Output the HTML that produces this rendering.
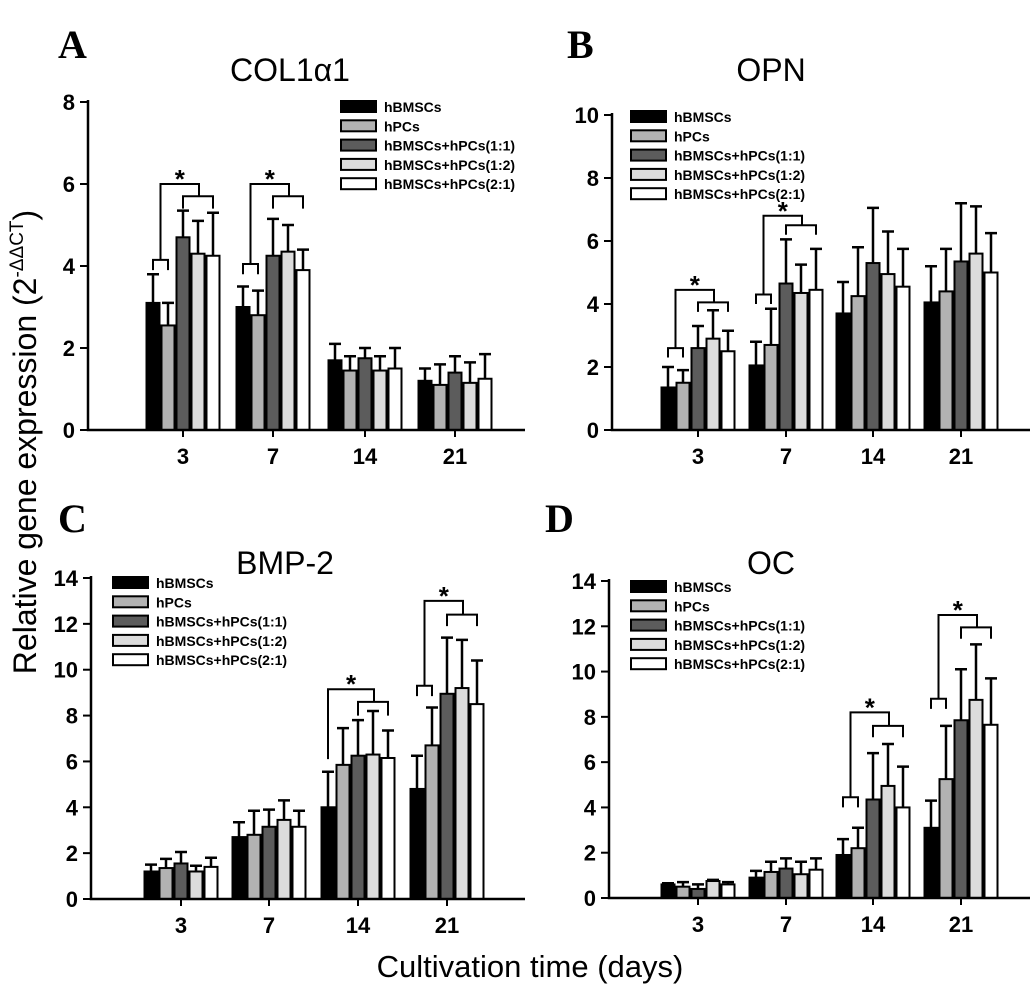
<!DOCTYPE html>
<html><head><meta charset="utf-8"><style>
body{margin:0;background:#fff}
svg{display:block;font-family:"Liberation Sans",Arial,sans-serif}
</style></head><body>
<svg id="fig" width="1033" height="990" viewBox="0 0 1033 990" xmlns="http://www.w3.org/2000/svg">
<text x="58" y="58" font-family="Liberation Serif,serif" font-weight="bold" font-size="40">A</text>
<text x="567" y="58" font-family="Liberation Serif,serif" font-weight="bold" font-size="40">B</text>
<text x="58" y="532" font-family="Liberation Serif,serif" font-weight="bold" font-size="40">C</text>
<text x="545" y="532" font-family="Liberation Serif,serif" font-weight="bold" font-size="40">D</text>
<text x="290" y="81" text-anchor="middle" font-size="32">COL1α1</text>
<text x="771" y="81" text-anchor="middle" font-size="32">OPN</text>
<text x="285" y="574" text-anchor="middle" font-size="32">BMP-2</text>
<text x="771" y="574" text-anchor="middle" font-size="32">OC</text>
<text transform="translate(36,442) rotate(-90)" text-anchor="middle" font-size="32">Relative gene expression (2<tspan font-size="19" dy="-13">-ΔΔCT</tspan><tspan dy="13">)</tspan></text>
<text x="530" y="977" text-anchor="middle" font-size="31">Cultivation time (days)</text>
</svg>
<script>
const categories = ["3","7","14","21"];
const seriesNames = ["hBMSCs","hPCs","hBMSCs+hPCs(1:1)","hBMSCs+hPCs(1:2)","hBMSCs+hPCs(2:1)"];
// means [category][series]
const colMeans = [[3.1,2.55,4.7,4.3,4.25],[3.0,2.8,4.25,4.35,3.9],[1.7,1.45,1.75,1.45,1.5],[1.2,1.1,1.4,1.15,1.25]];
const colTops  = [[3.8,3.1,5.35,5.1,5.3],[3.5,3.4,5.15,5.0,4.4],[2.1,1.8,2.0,1.8,2.0],[1.5,1.6,1.8,1.65,1.85]];
const opnMeans = [[1.35,1.5,2.6,2.9,2.5],[2.05,2.7,4.65,4.35,4.45],[3.7,4.25,5.3,4.95,4.55],[4.05,4.4,5.35,5.6,5.0]];
const opnTops  = [[2.0,1.9,3.3,3.8,3.15],[2.8,3.85,6.05,5.25,5.75],[4.7,5.8,7.05,6.3,5.75],[5.2,5.75,7.2,7.1,6.25]];
const bmpMeans = [[1.2,1.35,1.55,1.2,1.4],[2.7,2.8,3.15,3.45,3.15],[4.0,5.85,6.25,6.3,6.15],[4.8,6.7,8.95,9.2,8.5]];
const bmpTops  = [[1.5,1.75,2.05,1.45,1.8],[3.35,3.85,3.9,4.3,3.85],[5.55,7.45,7.8,8.2,7.35],[6.25,8.35,11.4,11.3,10.4]];
const ocMeans  = [[0.6,0.5,0.4,0.75,0.6],[0.9,1.15,1.3,1.05,1.25],[1.9,2.2,4.35,4.95,4.0],[3.1,5.25,7.85,8.75,7.65]];
const ocTops   = [[0.65,0.7,0.6,0.8,0.7],[1.2,1.6,1.75,1.6,1.75],[2.6,3.1,6.4,6.8,5.8],[4.3,7.6,10.1,11.2,9.7]];
// brackets: [categoryIndex, smallLevel(or null), leftArmEnd, topLevel, rightLevel, rightArmEnd]
const colBrackets = [[0,4.15,3.9,6.0,5.7,5.4],[1,4.05,3.8,6.0,5.7,5.4]];
const opnBrackets = [[0,2.6,2.3,4.45,4.05,3.75],[1,4.3,4.0,6.8,6.5,6.2]];
const bmpBrackets = [[2,null,6.1,9.15,8.6,8.0],[3,9.3,8.85,13.0,12.4,11.9]];
const ocBrackets  = [[2,4.45,4.0,8.2,7.6,7.1],[3,8.8,8.35,12.5,11.95,11.45]];
const colTicks = [0,2,4,6,8];
const opnTicks = [0,2,4,6,8,10];
const bmpTicks = [0,2,4,6,8,10,12,14];
const ocTicks  = [0,2,4,6,8,10,12,14];

const fills = ["#000","#b2b2b2","#5c5c5c","#dcdcdc","#fff"];
const NS="http://www.w3.org/2000/svg";
const svg=document.getElementById('fig');
function mk(tag,attrs,parent){const e=document.createElementNS(NS,tag);for(const k in attrs)e.setAttribute(k,attrs[k]);(parent||svg).appendChild(e);return e;}

function panel(p){
  const g=mk('g',{});
  
  
  const yMax=p.ticks[p.ticks.length-1];
  const ys=v=>p.y0-(v/yMax)*(p.y0-p.yTop);
  const xs=(c,s)=>p.centers[c]+(s-2)*15;
  p.means.forEach((row,c)=>row.forEach((v,s)=>{
    const x=xs(c,s);
    const eb=mk('path',{d:`M${x} ${ys(v)}V${ys(p.tops[c][s])}M${x-6} ${ys(p.tops[c][s])}H${x+6}`,stroke:'#000','stroke-width':2.5,fill:'none'},g);
    
    
    const r=mk('rect',{x:x-6.5,y:ys(v),width:13,height:p.y0-ys(v),fill:fills[s],stroke:'#000','stroke-width':2},g);
    
    
  }));
  const ax=mk('path',{d:`M${p.x0} ${p.yTop-2}V${p.y0}H${p.xEnd}`,stroke:'#000','stroke-width':2.5,fill:'none'},g);
  
  
  p.ticks.forEach(t=>{
    const tk=mk('path',{d:`M${p.x0-8} ${ys(t)}H${p.x0}`,stroke:'#000','stroke-width':2},g);
    
    
    const tl=mk('text',{x:p.x0-13,y:ys(t)+8,'text-anchor':'end','font-size':22,'font-weight':'bold'},g);
    tl.textContent=t;
    
    
  });
  categories.forEach((c,i)=>{
    const tk=mk('path',{d:`M${p.centers[i]} ${p.y0}V${p.y0+7}`,stroke:'#000','stroke-width':2},g);
    
    
    const tl=mk('text',{x:p.centers[i],y:p.y0+34,'text-anchor':'middle','font-size':22,'font-weight':'bold'},g);
    tl.textContent=c;
    
    
  });
  p.brackets.forEach(b=>{
    const c=b[0];
    const b0=xs(c,0),b1=xs(c,1),b2=xs(c,2),b4=xs(c,4);
    let d='';
    let lx;
    if(b[1]!==null){
      lx=(b0+b1)/2;
      d+=`M${b0} ${ys(b[2])}V${ys(b[1])}H${b1}V${ys(b[2])}M${lx} ${ys(b[1])}V${ys(b[3])}`;
    } else {
      lx=b0;
      d+=`M${b0} ${ys(b[2])}V${ys(b[3])}`;
    }
    const rx=(b2+b4)/2+1;
    d+=`H${rx}V${ys(b[4])}M${b2} ${ys(b[5])}V${ys(b[4])}H${b4}V${ys(b[5])}`;
    const br=mk('path',{d:d,stroke:'#000','stroke-width':2,fill:'none'},g);
    
    
    const st=mk('text',{x:(lx+rx)/2,y:ys(b[3])+4,'text-anchor':'middle','font-size':26,'font-weight':'bold'},g);
    st.textContent='*';
    
    
  });
  seriesNames.forEach((n,i)=>{
    const y=p.legY+i*19.3;
    const lr=mk('rect',{x:p.legX,y:y-6,width:35,height:11,fill:fills[i],stroke:'#000','stroke-width':2},g);
    
    
    const lt=mk('text',{x:p.legX+43,y:y+5,'font-size':14,'font-weight':'bold'},g);
    lt.textContent=n;
    
    
  });
}
panel({name:'panel-col1a1',key:'col',x0:88,xEnd:525,y0:430,yTop:102,centers:[183,273,365,455],ticks:colTicks,means:colMeans,tops:colTops,brackets:colBrackets,legX:341,legY:107});
panel({name:'panel-opn',key:'opn',x0:612,xEnd:1030,y0:430,yTop:115,centers:[698,786,873,961],ticks:opnTicks,means:opnMeans,tops:opnTops,brackets:opnBrackets,legX:631,legY:117});
panel({name:'panel-bmp2',key:'bmp',x0:91,xEnd:525,y0:899,yTop:578,centers:[181,269,358,447],ticks:bmpTicks,means:bmpMeans,tops:bmpTops,brackets:bmpBrackets,legX:113,legY:583});
panel({name:'panel-oc',key:'oc',x0:609,xEnd:1030,y0:898,yTop:581,centers:[698,786,873,961],ticks:ocTicks,means:ocMeans,tops:ocTops,brackets:ocBrackets,legX:631,legY:587});
</script>
</body></html>
